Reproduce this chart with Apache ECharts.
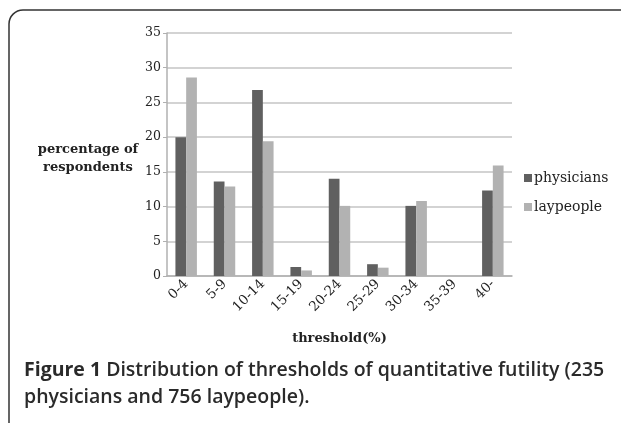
<!DOCTYPE html>
<html>
<head>
<meta charset="utf-8">
<script src="https://cdn.jsdelivr.net/npm/echarts@6/dist/echarts.min.js"></script>
<style>html,body{margin:0;padding:0;background:#fff;}#c{width:621px;height:423px;}</style>
</head>
<body>
<div id="c"></div>
<script>
const categories = ['0-4','5-9','10-14','15-19','20-24','25-29','30-34','35-39','40-'];
const physicians = [20.0, 13.6, 26.8, 1.3, 14.0, 1.7, 10.1, 0, 12.3];
const laypeople = [28.6, 12.9, 19.4, 0.8, 10.1, 1.2, 10.8, 0, 15.9];
const yTicks = {min: 0, max: 35, interval: 5};

const serif = '"DejaVu Serif", serif';
const chart = echarts.init(document.getElementById('c'));
chart.setOption({
  animation: false,
  backgroundColor: '#fff',
  title: {
    text: 'percentage of\nrespondents',
    left: 83, top: 136,
    textAlign: 'center',
    textStyle: {fontFamily: serif, fontSize: 13, fontWeight: 'bold', color: '#222', lineHeight: 18, align: 'center'}
  },
  legend: {
    orient: 'vertical', left: 524, top: 171, padding: 0,
    itemWidth: 8, itemHeight: 8, itemGap: 15,
    icon: 'rect',
    textStyle: {fontFamily: serif, fontSize: 14, color: '#222', padding: [0,0,0,-3]},
    data: ['physicians','laypeople']
  },
  grid: {left: 167, right: 109, top: 33, bottom: 147},
  xAxis: {
    type: 'category', data: categories,
    name: 'threshold(%)', nameLocation: 'middle', nameGap: 56,
    nameTextStyle: {fontFamily: serif, fontSize: 13, fontWeight: 'bold', color: '#222'},
    axisLine: {lineStyle: {color: '#b0b0b0', width: 1.5}},
    axisTick: {show: false},
    axisLabel: {rotate: 45, fontFamily: serif, fontSize: 13.5, color: '#222', margin: 6, interval: 0}
  },
  yAxis: {
    type: 'value', min: yTicks.min, max: yTicks.max, interval: yTicks.interval,
    axisLine: {show: true, lineStyle: {color: '#b0b0b0', width: 1.5}},
    axisTick: {show: true, length: 4, lineStyle: {color: '#b0b0b0'}},
    axisLabel: {fontFamily: serif, fontSize: 12.5, color: '#222', margin: 6},
    splitLine: {lineStyle: {color: '#c4c4c4', width: 1.5}}
  },
  series: [
    {name: 'physicians', type: 'bar', data: physicians, barGap: '0%', barCategoryGap: '44%', itemStyle: {color: '#606060'}},
    {name: 'laypeople', type: 'bar', data: laypeople, barGap: '0%', barCategoryGap: '44%', itemStyle: {color: '#b2b2b2'}}
  ],
  graphic: [
    {type: 'rect', shape: {x: 9, y: 10, width: 700, height: 500, r: 14}, style: {fill: 'none', stroke: '#333', lineWidth: 1.5}, silent: true},
    {type: 'text', left: 24, top: 357, style: {
      text: '{b|Figure 1} Distribution of thresholds of quantitative futility (235\nphysicians and 756 laypeople).',
      font: '600 19.5px "Open Sans", sans-serif', fill: '#2a2a2a', lineHeight: 27,
      rich: {b: {fontWeight: 'bold', fontFamily: '"Open Sans", sans-serif', fontSize: 19.5, fill: '#2a2a2a'}}
    }}
  ]
});
</script>
</body>
</html>
